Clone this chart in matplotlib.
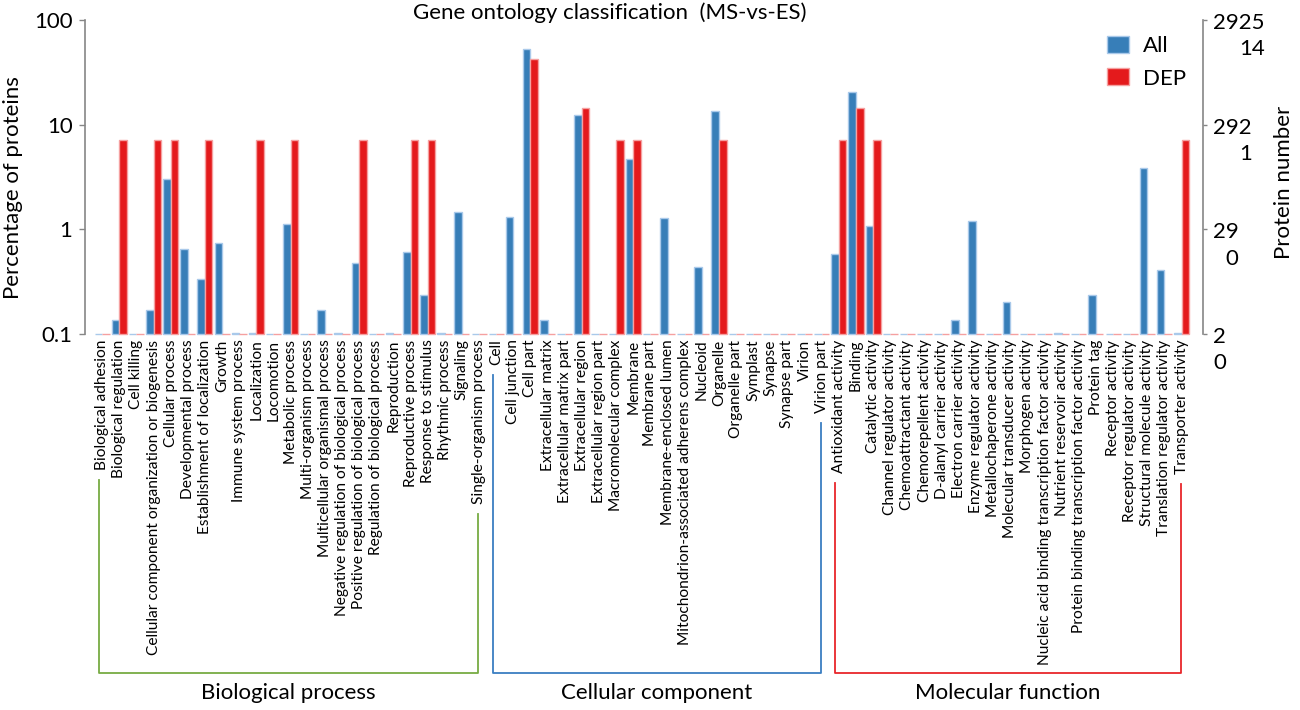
import numpy as np
import matplotlib
matplotlib.use('Agg')
import matplotlib.pyplot as plt
from matplotlib.patches import Patch
from matplotlib.lines import Line2D
import matplotlib.transforms as mtransforms

plt.rcParams['font.family'] = ['Lato', 'DejaVu Sans']

# ---- data ----
bp_terms = ['Biological adhesion', 'Biological regulation', 'Cell killing',
            'Cellular component organization or biogenesis', 'Cellular process',
            'Developmental process', 'Establishment of localization', 'Growth',
            'Immune system process', 'Localization', 'Locomotion', 'Metabolic process',
            'Multi-organism process', 'Multicellular organismal process',
            'Negative regulation of biological process',
            'Positive regulation of biological process',
            'Regulation of biological process', 'Reproduction', 'Reproductive process',
            'Response to stimulus', 'Rhythmic process', 'Signaling',
            'Single-organism process']
cc_terms = ['Cell', 'Cell junction', 'Cell part', 'Extracellular matrix',
            'Extracellular matrix part', 'Extracellular region', 'Extracellular region part',
            'Macromolecular complex', 'Membrane', 'Membrane part',
            'Membrane-enclosed lumen', 'Mitochondrion-associated adherens complex',
            'Nucleoid', 'Organelle', 'Organelle part', 'Symplast', 'Synapse',
            'Synapse part', 'Virion', 'Virion part']
mf_terms = ['Antioxidant activity', 'Binding', 'Catalytic activity',
            'Channel regulator activity', 'Chemoattractant activity',
            'Chemorepellent activity', 'D-alanyl carrier activity',
            'Electron carrier activity', 'Enzyme regulator activity',
            'Metallochaperone activity', 'Molecular transducer activity',
            'Morphogen activity', 'Nucleic acid binding transcription factor activity',
            'Nutrient reservoir activity', 'Protein binding transcription factor activity',
            'Protein tag', 'Receptor activity', 'Receptor regulator activity',
            'Structural molecule activity', 'Translation regulator activity',
            'Transporter activity']

# percentage of proteins (All)
bp_all = [0, 0.136, 0, 0.170, 3.02, 0.644, 0.338, 0.74, 0.103, 0.103, 0, 1.12,
          0, 0.170, 0.103, 0.473, 0, 0.103, 0.61, 0.238, 0.103, 1.46, 0]
cc_all = [0, 1.32, 53.3, 0.136, 0, 12.5, 0, 0, 4.66, 0, 1.29, 0, 0.44, 13.5,
          0, 0, 0, 0, 0, 0]
mf_all = [0.58, 20.4, 1.08, 0, 0, 0, 0, 0.136, 1.19, 0, 0.204, 0, 0, 0.103,
          0, 0.238, 0, 0, 3.82, 0.406, 0.103]

# percentage of proteins (DEP)
bp_dep = [0, 7.14, 0, 7.14, 7.14, 0, 7.14, 0, 0, 7.14, 0, 7.14, 0, 0, 0, 7.14,
          0, 0, 7.14, 7.14, 0, 0, 0]
cc_dep = [0, 0, 42.86, 0, 0, 14.29, 0, 7.14, 7.14, 0, 0, 0, 0, 7.14, 0, 0, 0,
          0, 0, 0]
mf_dep = [7.14, 14.29, 7.14, 0, 0, 0, 0, 0, 0, 0, 0, 0, 0, 0, 0, 0, 0, 0, 0, 0,
          7.14]

group_names = ['Biological process', 'Cellular component', 'Molecular function']
left_ticks = [0.1, 1, 10, 100]
left_labels = ['0.1', '1', '10', '100']
right_all_counts = ['2', '29', '292', '2925']
right_dep_counts = ['0', '0', '1', '14']

BLUE, BLUE_EDGE = '#377eb8', '#a9c9ea'
RED, RED_EDGE = '#e41a1c', '#f5a0a0'
GREY = '#868686'
GROUP_COLORS = ['#77ab43', '#3a7ec2', '#e8262b']

terms = bp_terms + cc_terms + mf_terms
all_pct = np.array(bp_all + cc_all + mf_all, dtype=float)
dep_pct = np.array(bp_dep + cc_dep + mf_dep, dtype=float)
x = np.arange(len(terms))

fig = plt.figure(figsize=(13, 7.1), dpi=100)
ax = fig.add_axes([85 / 1300, 1 - 334 / 710, 1118 / 1300, 314 / 710])

base = 0.1
w = 0.44
ax.bar(x - w / 2, np.clip(all_pct - base, 0, None), bottom=base, width=w,
       color=BLUE, edgecolor=BLUE_EDGE, linewidth=1.0, clip_on=False, zorder=2)
ax.bar(x + w / 2, np.clip(dep_pct - base, 0, None), bottom=base, width=w,
       color=RED, edgecolor=RED_EDGE, linewidth=1.0, clip_on=False, zorder=2)

ax.set_yscale('log')
ax.set_ylim(0.1, 100)
ax.set_xlim(-1.0, 64.25)
ax.set_yticks(left_ticks, labels=left_labels)
ax.yaxis.set_minor_locator(matplotlib.ticker.NullLocator())
ax.tick_params(axis='y', labelsize=16, length=4, width=1, color=GREY, pad=5)
ax.set_xticks(x, labels=terms, rotation=90, fontsize=11.2)
ax.tick_params(axis='x', length=0, pad=4)
for s in ['top', 'bottom', 'right']:
    ax.spines[s].set_visible(False)
ax.spines['left'].set_color(GREY)
ax.spines['left'].set_linewidth(1.2)

# right axis: protein numbers (All / DEP)
ax2 = ax.twinx()
ax2.set_yscale('log')
ax2.set_ylim(ax.get_ylim())
ax2.set_yticks(left_ticks, labels=[''] * 4)
ax2.yaxis.set_minor_locator(matplotlib.ticker.NullLocator())
ax2.tick_params(axis='y', length=3, width=1, color=GREY)
for s in ['top', 'bottom', 'left']:
    ax2.spines[s].set_visible(False)
ax2.spines['right'].set_color(GREY)
ax2.spines['right'].set_linewidth(1.2)
trans = mtransforms.blended_transform_factory(ax2.transAxes, ax2.transData)
trans = trans + mtransforms.ScaledTranslation(10 / 100, 7 / 100, fig.dpi_scale_trans)
for v, a, d in zip(left_ticks, right_all_counts, right_dep_counts):
    ax2.text(1.0, v, f'{a}\n{d}', transform=trans, ha='left', va='top',
             ma='right', fontsize=16, linespacing=1.4, clip_on=False)

ax.legend([Patch(facecolor=BLUE, edgecolor=BLUE_EDGE), Patch(facecolor=RED, edgecolor=RED_EDGE)],
          ['All', 'DEP'], loc='upper left', bbox_to_anchor=(1107 / 1300, 1 - 36 / 710),
          bbox_transform=fig.transFigure, frameon=False, fontsize=16,
          handlelength=1.0, handleheight=0.8, handletextpad=0.6, labelspacing=0.55,
          borderpad=0, borderaxespad=0)

fig.text(610 / 1300, 1 - 13 / 710, 'Gene ontology classification  (MS-vs-ES)',
         ha='center', va='center', fontsize=16)
fig.text(13.5 / 1300, 1 - 188 / 710, 'Percentage of proteins', rotation=90,
         ha='center', va='center', fontsize=16)
fig.text(1284 / 1300, 1 - 182 / 710, 'Protein number', rotation=90,
         ha='center', va='center', fontsize=16)

# ---- group brackets under the category labels ----
fig.canvas.draw()
r = fig.canvas.get_renderer()
tlabels = ax.get_xticklabels()
inv = fig.transFigure.inverted()
y_bottom = 710 - 673
sizes = [len(bp_terms), len(cc_terms), len(mf_terms)]
start = 0
for name, n, col in zip(group_names, sizes, GROUP_COLORS):
    end = start + n - 1
    xl = ax.transData.transform((start - 0.2, 1))[0]
    xr = ax.transData.transform((end - 0.05, 1))[0]
    yl = tlabels[start].get_window_extent(r).y0 - 10
    yr = tlabels[end].get_window_extent(r).y0 - 10
    pts = inv.transform([(xl, yl), (xl, y_bottom), (xr, y_bottom), (xr, yr)])
    fig.add_artist(Line2D(pts[:, 0], pts[:, 1], color=col, linewidth=1.3,
                          transform=fig.transFigure))
    cx = inv.transform(((xl + xr) / 2, 0))[0]
    fig.text(cx, 1 - 693 / 710, name, ha='center', va='center', fontsize=16)
    start = end + 1

fig.savefig('out.png', dpi=100)
plt.close(fig)
